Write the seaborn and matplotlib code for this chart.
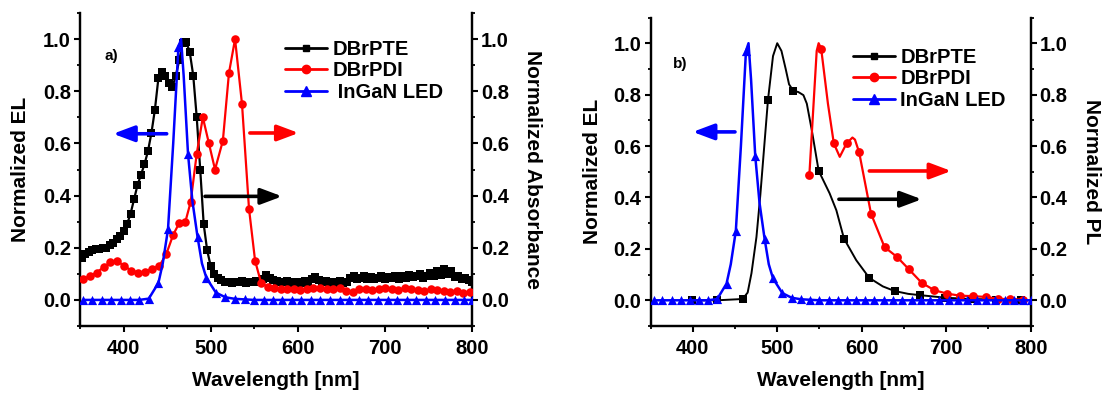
import numpy as np
import pandas as pd
import matplotlib
matplotlib.use("Agg")
import matplotlib.pyplot as plt
from matplotlib.lines import Line2D
from matplotlib.ticker import MultipleLocator
import seaborn as sns

# ------------------------------------------------------------------ data
# panel a) DBrPTE electroluminescence (dense measured points)
a_pte_wl = [352, 356, 360, 364, 368, 372, 376, 380, 384, 388, 392, 396, 400, 404,
            408, 412, 416, 420, 424, 428, 432, 436, 440, 444, 448, 452, 456, 460,
            464, 468, 472, 476, 480, 484, 488, 492, 496, 500, 504, 508, 512, 516,
            520, 524, 528, 532, 536, 540, 544, 548, 552, 556, 560, 564, 568, 572,
            576, 580, 584, 588, 592, 596, 600, 604, 608, 612, 616, 620, 624, 628,
            632, 636, 640, 644, 648, 652, 656, 660, 664, 668, 672, 676, 680, 684,
            688, 692, 696, 700, 704, 708, 712, 716, 720, 724, 728, 732, 736, 740,
            744, 748, 752, 756, 760, 764, 768, 772, 776, 780, 784, 788, 792, 796, 800]
a_pte_el = [0.16, 0.175, 0.185, 0.19, 0.195, 0.195, 0.20, 0.20, 0.21, 0.22, 0.235, 0.245,
            0.265, 0.29, 0.33, 0.385, 0.44, 0.48, 0.52, 0.57, 0.64, 0.73, 0.85, 0.875,
            0.86, 0.83, 0.815, 0.86, 0.92, 0.985, 0.99, 0.95, 0.86, 0.70, 0.50, 0.29,
            0.19, 0.13, 0.10, 0.085, 0.075, 0.07,
            0.07, 0.065, 0.07, 0.068, 0.072, 0.066, 0.07, 0.068, 0.073, 0.07, 0.08, 0.095,
            0.085, 0.075, 0.072, 0.07, 0.068, 0.072, 0.065, 0.07, 0.068, 0.066, 0.072, 0.07,
            0.08, 0.088, 0.078, 0.07, 0.072, 0.068, 0.066, 0.07, 0.072, 0.065, 0.068, 0.085,
            0.09, 0.08, 0.085, 0.09, 0.082, 0.086, 0.08, 0.085, 0.09, 0.082, 0.088, 0.085,
            0.092, 0.08, 0.09, 0.085, 0.095, 0.088, 0.09, 0.10, 0.085, 0.092, 0.105, 0.09,
            0.11, 0.095, 0.12, 0.10, 0.11, 0.088, 0.092, 0.08, 0.085, 0.075, 0.07]

# panel a) DBrPDI absorbance
a_pdi_wl = [353, 361, 369, 377, 385, 393, 401, 409, 417, 425, 433, 441, 449, 457, 464,
            471, 477, 484, 491, 498, 505, 514, 521, 528, 536, 544, 551, 558, 566, 573,
            581, 588, 596, 603, 611, 618, 626, 633, 641, 648, 655, 663, 670, 678, 685,
            693, 700, 708, 715, 723, 730, 738, 745, 753, 760, 768, 775, 783, 790, 798]
a_pdi_abs = [0.08, 0.09, 0.105, 0.125, 0.145, 0.148, 0.13, 0.112, 0.105, 0.108, 0.12,
             0.13, 0.175, 0.25, 0.295, 0.30, 0.375, 0.56, 0.70, 0.60, 0.50, 0.61, 0.87,
             1.0, 0.75, 0.35, 0.15, 0.064, 0.05, 0.045, 0.04, 0.042, 0.04, 0.038, 0.042,
             0.045, 0.044, 0.042, 0.04, 0.045, 0.035, 0.03, 0.04, 0.042, 0.038, 0.04,
             0.045, 0.042, 0.038, 0.045, 0.04, 0.038, 0.035, 0.04, 0.038, 0.035, 0.03,
             0.035, 0.025, 0.03]

# InGaN LED electroluminescence (same in both panels): marked points
led_wl = [354, 364, 375, 386, 397, 407, 418, 429, 440, 451, 463, 474, 485, 495, 506,
          517, 528, 539, 550, 561, 572, 582, 593, 604, 615, 626, 637, 648, 659, 670,
          681, 692, 703, 714, 725, 736, 747, 758, 769, 780, 791, 800]
led_el = [0.0, 0.0, 0.0, 0.0, 0.0, 0.0, 0.0, 0.005, 0.065, 0.27, 0.97, 0.56, 0.24,
          0.085, 0.028, 0.01, 0.004, 0.002, 0.0, 0.0, 0.0, 0.0, 0.0, 0.0, 0.0, 0.0,
          0.0, 0.0, 0.0, 0.0, 0.0, 0.0, 0.0, 0.0, 0.0, 0.0, 0.0, 0.0, 0.0, 0.0, 0.0, 0.0]
# intermediate points of the LED curve (no marker)
led_curve_wl = [445, 457, 466, 469, 479, 490]
led_curve_el = [0.14, 0.60, 1.0, 0.86, 0.38, 0.14]

# panel b) DBrPTE electroluminescence: marked points + curve points
b_pte_wl = [399, 429, 459, 489, 519, 549, 579, 609, 639, 669, 699, 729, 759, 789]
b_pte_el = [0.0, 0.0, 0.005, 0.778, 0.815, 0.504, 0.24, 0.087, 0.036, 0.02, 0.01,
            0.005, 0.003, 0.003]
b_pte_curve_wl = [465, 469.5, 475.4, 480, 495, 500, 505, 510, 514, 525, 531, 535, 541,
                  562, 570, 593.5, 625, 655]
b_pte_curve_el = [0.03, 0.105, 0.246, 0.41, 0.95, 1.0, 0.97, 0.90, 0.84, 0.81, 0.798,
                  0.765, 0.66, 0.416, 0.35, 0.156, 0.054, 0.025]

# panel b) DBrPDI photoluminescence: marked points + curve points
b_pdi_wl = [538, 552, 567, 582, 597, 611, 627, 642, 656, 671, 686, 701, 716, 732, 747,
            761, 776, 791]
b_pdi_pl = [0.486, 0.979, 0.61, 0.61, 0.575, 0.337, 0.207, 0.168, 0.12, 0.068, 0.039,
            0.026, 0.018, 0.016, 0.013, 0.006, 0.004, 0.003]
b_pdi_curve_wl = [546.7, 549, 560, 574, 589, 592]
b_pdi_curve_pl = [0.97, 1.0, 0.765, 0.558, 0.633, 0.625]

x_ticks = [400, 500, 600, 700, 800]
y_ticks = [0.0, 0.2, 0.4, 0.6, 0.8, 1.0]
labels_a = ["DBrPTE", "DBrPDI", " InGaN LED"]
labels_b = ["DBrPTE", "DBrPDI", "InGaN LED"]

# ------------------------------------------------------------------ style
sns.set_theme(style="ticks")
plt.rcParams["font.family"] = ["Liberation Sans", "DejaVu Sans"]
plt.rcParams["font.weight"] = "bold"
plt.rcParams["axes.labelweight"] = "bold"
for key in ("text.color", "axes.labelcolor", "xtick.color", "ytick.color",
            "axes.edgecolor"):
    plt.rcParams[key] = "black"

BLACK, RED, BLUE = "#000000", "#ff0000", "#0000ff"
TICK_FS = 14.5

fig = plt.figure(figsize=(11.04, 3.98), dpi=100)
ax_a = fig.add_axes([80 / 1104, 1 - 326 / 398, 392 / 1104, 313 / 398])
ax_b = fig.add_axes([650.5 / 1104, 1 - 326 / 398, 380.2 / 1104, 308.5 / 398])


def draw(ax, mx, my, cx, cy, color, marker, ms, lw, z):
    wl = list(mx) + list(cx)
    val = list(my) + list(cy)
    df = pd.DataFrame({"wl": wl, "v": val}).sort_values("wl")
    sns.lineplot(data=df, x="wl", y="v", ax=ax, color=color, lw=lw,
                 estimator=None, sort=True, zorder=z)
    dm = pd.DataFrame({"wl": mx, "v": my})
    sns.scatterplot(data=dm, x="wl", y="v", ax=ax, color=color, marker=marker,
                    s=ms, linewidth=0, edgecolor=color, zorder=z + 0.1)


def style_axes(ax, ylabel_right, left_pad, right_pad):
    ax.set_xlim(350, 800)
    ax.set_ylim(-0.1, 1.1)
    ax.set_xticks(x_ticks)
    ax.set_yticks(y_ticks)
    ax.xaxis.set_minor_locator(MultipleLocator(50))
    ax.yaxis.set_minor_locator(MultipleLocator(0.1))
    ax.spines["top"].set_visible(False)
    for s in ("left", "right", "bottom"):
        ax.spines[s].set_linewidth(1.6)
    ax.tick_params(which="major", direction="out", length=4, width=1.5,
                   labelsize=TICK_FS, pad=2.5)
    ax.tick_params(axis="x", which="major", pad=5)
    ax.tick_params(which="minor", direction="out", length=2.5, width=1.3)
    ax.set_xlabel("Wavelength [nm]", fontsize=15, fontweight="bold", labelpad=10)
    ax.set_ylabel("Normalized EL", fontsize=15, fontweight="bold", labelpad=left_pad)
    for t in ax.get_xticklabels() + ax.get_yticklabels():
        t.set_fontweight("bold")
    tw = ax.twinx()
    tw.set_ylim(-0.1, 1.1)
    tw.set_yticks(y_ticks)
    tw.yaxis.set_minor_locator(MultipleLocator(0.1))
    tw.spines["top"].set_visible(False)
    for s in ("left", "right", "bottom"):
        tw.spines[s].set_linewidth(1.6)
    tw.tick_params(which="major", direction="out", length=4, width=1.5,
                   labelsize=TICK_FS, pad=2.5)
    tw.tick_params(which="minor", direction="out", length=2.5, width=1.3)
    tw.set_ylabel(ylabel_right, fontsize=15, fontweight="bold", rotation=270,
                  labelpad=right_pad)
    for t in tw.get_yticklabels():
        t.set_fontweight("bold")
    ax.set_facecolor("none")
    return tw


def arrow(ax, tail, head, color):
    ax.annotate("", xy=head, xytext=tail,
                arrowprops=dict(arrowstyle="-|>,head_length=0.8,head_width=0.3",
                                mutation_scale=16, lw=2.6, color=color,
                                shrinkA=0, shrinkB=0), zorder=6)


def legend(ax, labels, x, y):
    handles = [
        Line2D([], [], color=BLACK, lw=2, marker="s", ms=5),
        Line2D([], [], color=RED, lw=2, marker="o", ms=6),
        Line2D([], [], color=BLUE, lw=2, marker="^", ms=6.5),
    ]
    ax.legend(handles, labels, loc="upper left", bbox_to_anchor=(x, y),
              bbox_transform=fig.transFigure, frameon=False, borderpad=0,
              borderaxespad=0, handlelength=2.1, handletextpad=0.25,
              labelspacing=0.12, prop={"size": 14.5, "weight": "bold"})


# ------------------------------------------------------------------ panel a
tw_a = style_axes(ax_a, "Normalized Absorbance", 9, 24)
draw(ax_a, a_pte_wl, a_pte_el, [], [], BLACK, "s", 26, 1.6, 3)
draw(ax_a, a_pdi_wl, a_pdi_abs, [], [], RED, "o", 38, 1.6, 4)
draw(ax_a, led_wl, led_el, led_curve_wl, led_curve_el, BLUE, "^", 44, 1.8, 5)
arrow(ax_a, (449.5, 0.637), (388, 0.637), BLUE)
arrow(ax_a, (545, 0.64), (601, 0.64), RED)
arrow(ax_a, (493.5, 0.397), (582, 0.397), BLACK)
ax_a.text(378, 0.935, "a)", fontsize=11, fontweight="bold", va="center", ha="left")
legend(ax_a, labels_a, 285 / 1104, (398 - 40) / 398)

# ------------------------------------------------------------------ panel b
tw_b = style_axes(ax_b, "Normalized PL", 8, 24)
draw(ax_b, b_pte_wl, b_pte_el, b_pte_curve_wl, b_pte_curve_el, BLACK, "s", 30, 1.4, 3)
draw(ax_b, b_pdi_wl, b_pdi_pl, b_pdi_curve_wl, b_pdi_curve_pl, RED, "o", 40, 1.6, 4)
draw(ax_b, led_wl, led_el, led_curve_wl, led_curve_el, BLUE, "^", 44, 1.8, 5)
arrow(ax_b, (450, 0.655), (400, 0.655), BLUE)
arrow(ax_b, (609, 0.503), (706, 0.503), RED)
arrow(ax_b, (573, 0.393), (671, 0.393), BLACK)
ax_b.text(376.5, 0.92, "b)", fontsize=11, fontweight="bold", va="center", ha="left")
legend(ax_b, labels_b, 853 / 1104, (398 - 48) / 398)

ax_a.set_zorder(tw_a.get_zorder() + 1)
ax_b.set_zorder(tw_b.get_zorder() + 1)

fig.savefig("out.png", dpi=100, facecolor="white")
